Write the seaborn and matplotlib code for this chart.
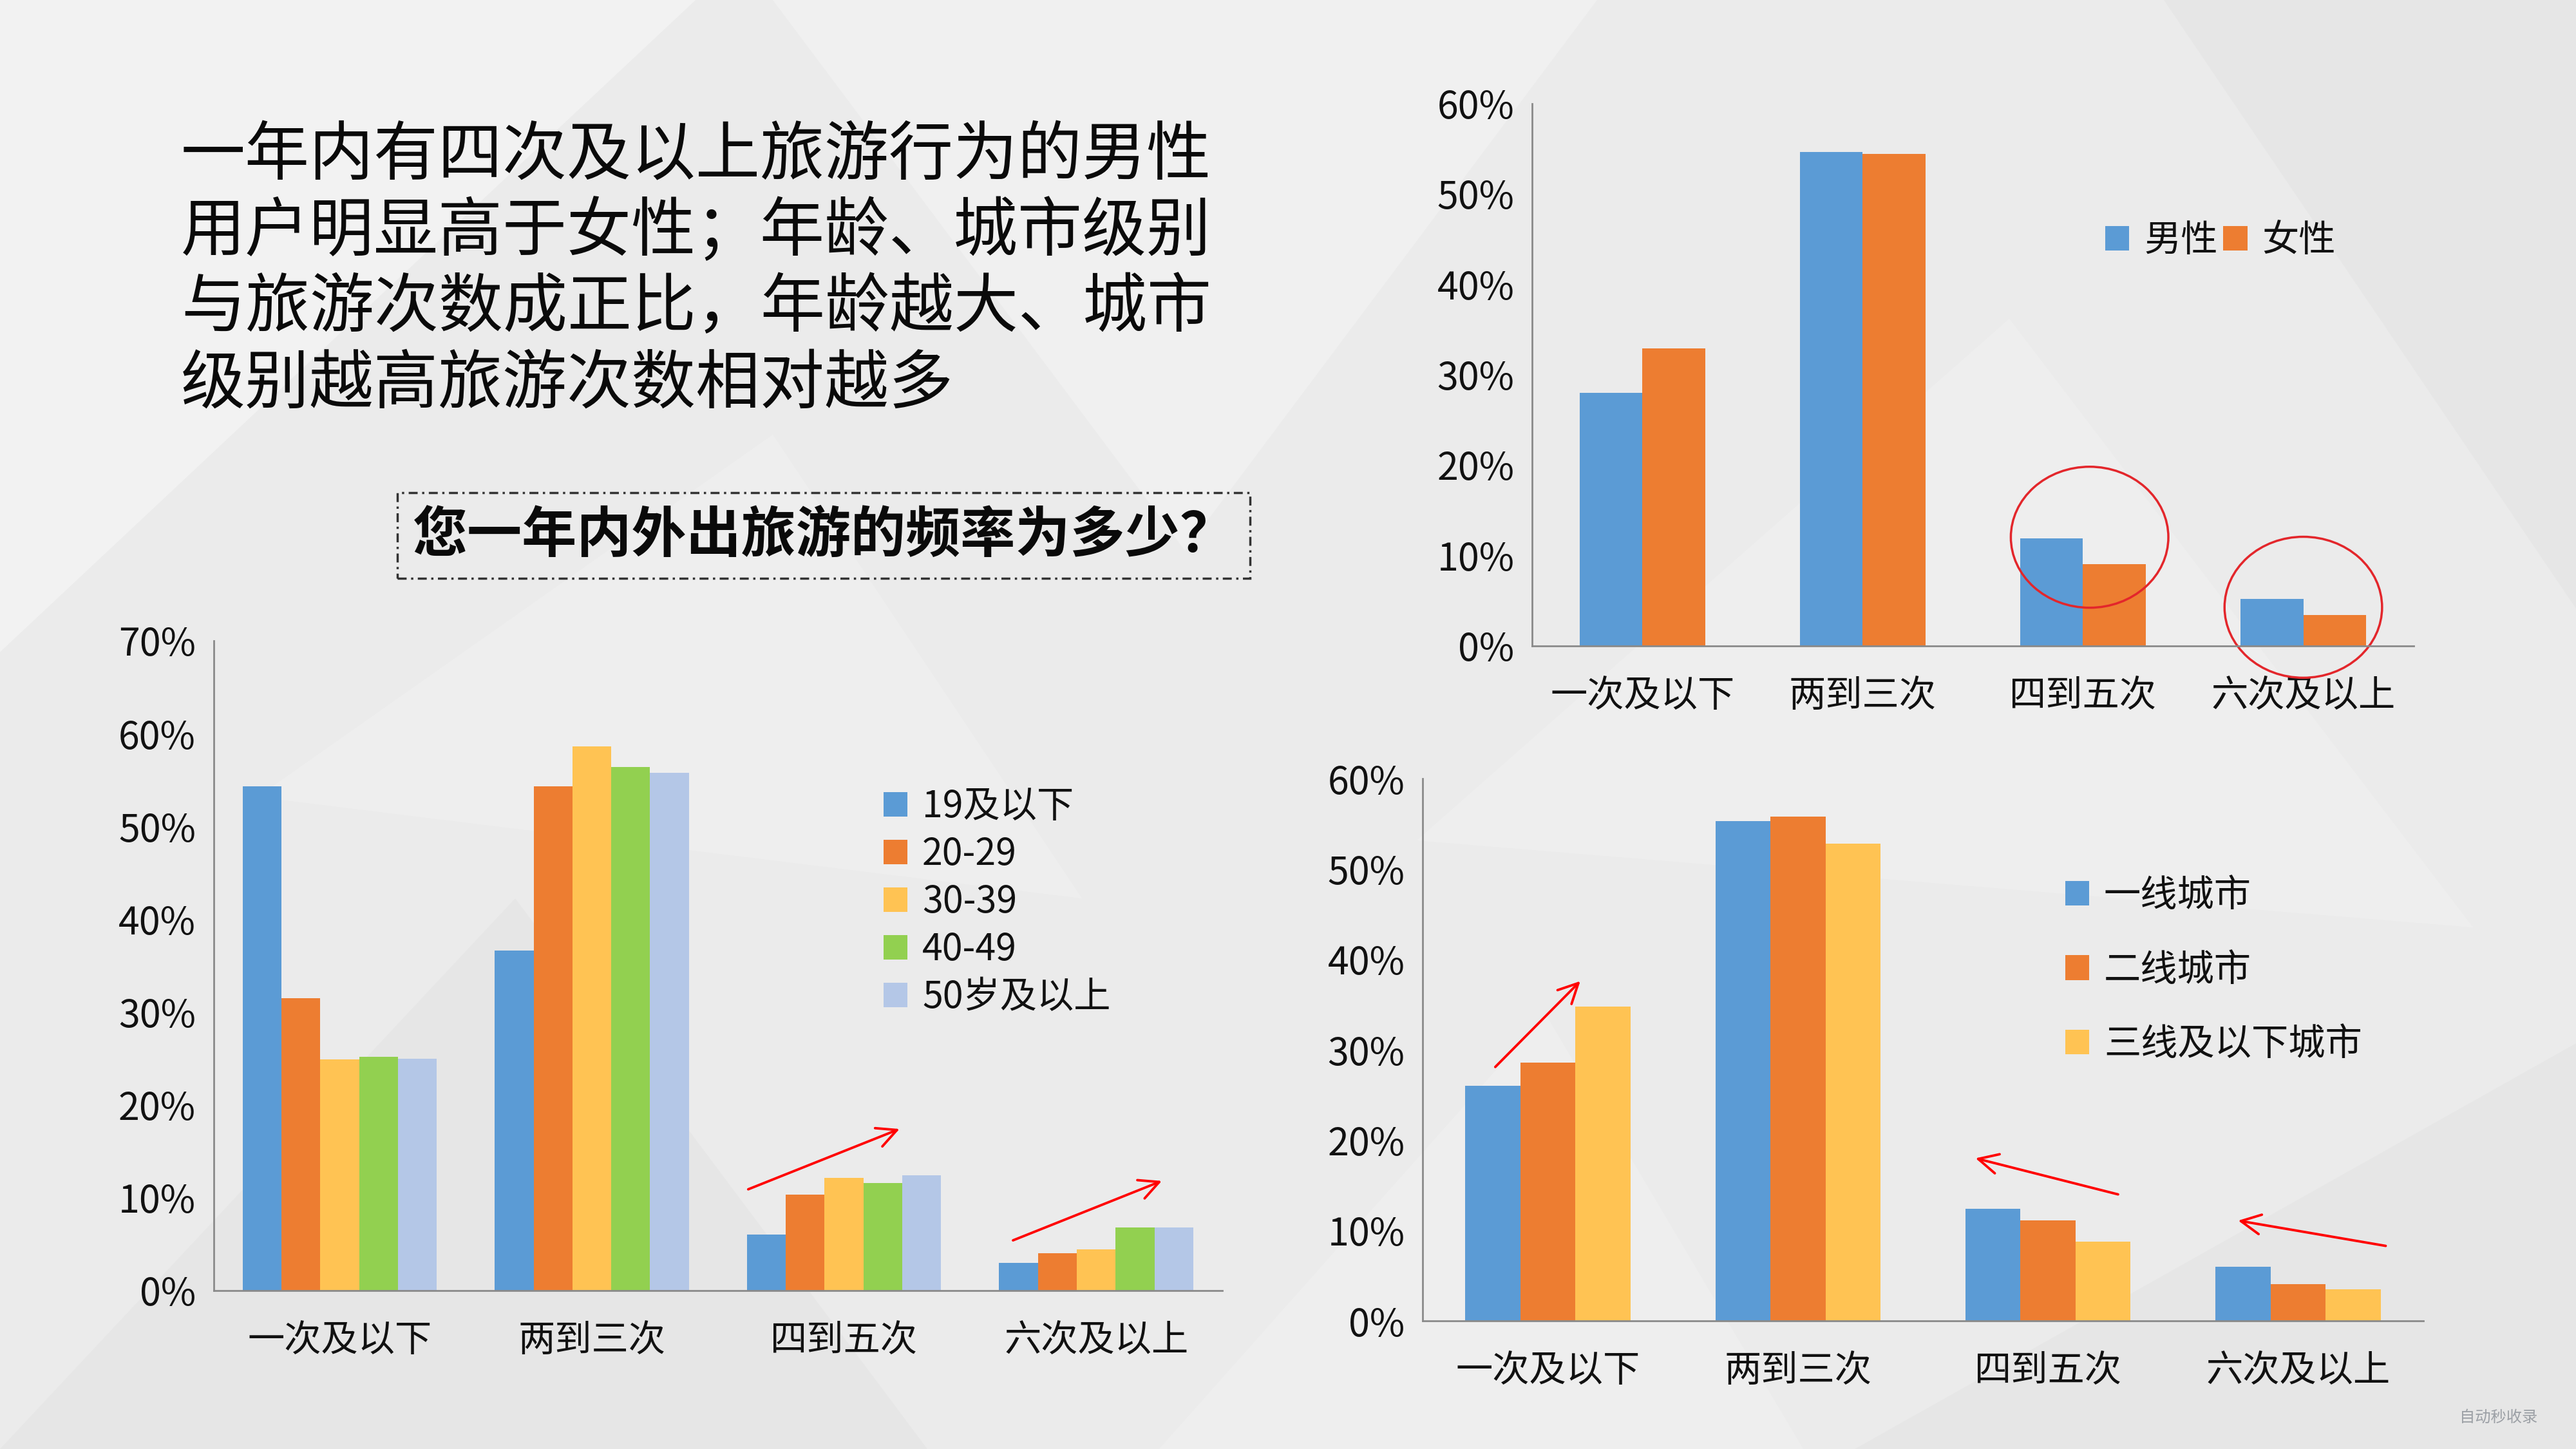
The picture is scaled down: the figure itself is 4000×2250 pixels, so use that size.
import numpy as np
import pandas as pd
import matplotlib
matplotlib.use('Agg')
import matplotlib.pyplot as plt
import seaborn as sns
from matplotlib.patches import Ellipse, Rectangle, Polygon
from matplotlib.ticker import PercentFormatter, FixedLocator, MultipleLocator

# data (percent)
freq = ['一次及以下', '两到三次', '四到五次', '六次及以上']

genders = ['男性', '女性']
male = [28.0, 54.6, 11.9, 5.2]
female = [32.9, 54.4, 9.0, 3.4]

ages = ['19及以下', '20-29', '30-39', '40-49', '50岁及以上']
age_19 = [54.3, 36.6, 6.0, 3.0]
age_20 = [31.5, 54.3, 10.3, 4.0]
age_30 = [24.9, 58.6, 12.1, 4.4]
age_40 = [25.2, 56.4, 11.6, 6.8]
age_50 = [25.0, 55.8, 12.4, 6.8]

cities = ['一线城市', '二线城市', '三线及以下城市']
city_1 = [26.0, 55.3, 12.4, 6.0]
city_2 = [28.6, 55.8, 11.1, 4.1]
city_3 = [34.8, 52.8, 8.8, 3.5]

title_lines = ['一年内有四次及以上旅游行为的男性',
               '用户明显高于女性；年龄、城市级别',
               '与旅游次数成正比，年龄越大、城市',
               '级别越高旅游次数相对越多']
question = '您一年内外出旅游的频率为多少？'

blue, orange, yellow, green, lblue = '#5B9BD5', '#ED7D31', '#FFC353', '#92D050', '#B4C7E7'
grey = '#8a8a8a'
ink = '#111111'


def long_df(names, series):
    rows = []
    for n, s in zip(names, series):
        for f, v in zip(freq, s):
            rows.append((f, n, v))
    return pd.DataFrame(rows, columns=['freq', 'group', 'pct'])


def style_ax(ax, top):
    ax.set_ylim(0, top)
    ax.set_xlim(-0.5, 3.5)
    ax.yaxis.set_major_locator(MultipleLocator(10))
    ax.yaxis.set_major_formatter(PercentFormatter(100, decimals=0))
    ax.xaxis.set_minor_locator(FixedLocator([-0.5, 0.5, 1.5, 2.5, 3.5]))
    ax.tick_params(axis='x', which='major', length=0, pad=14, labelsize=16.5, labelcolor=ink)
    ax.tick_params(axis='x', which='minor', length=9, width=0.8, color=grey)
    ax.tick_params(axis='y', length=5, width=0.8, color=grey, labelsize=17, pad=3, labelcolor=ink)
    for s in ['top', 'right']:
        ax.spines[s].set_visible(False)
    for s in ['left', 'bottom']:
        ax.spines[s].set_color(grey)
        ax.spines[s].set_linewidth(0.8)
    ax.set_xlabel('')
    ax.set_ylabel('')
    ax.set_facecolor('none')
    ax.grid(False)
    ax.set_zorder(3)


def legend_box(ax, **kw):
    h, l = ax.get_legend_handles_labels()
    leg = ax.legend(h, l, bbox_transform=fig.transFigure, frameon=False, fontsize=16.5,
                    handlelength=0.65, handleheight=0.65, handletextpad=0.4, borderpad=0, **kw)
    for t in leg.get_texts():
        t.set_color(ink)


sns.set_style('white')
plt.rcParams['font.family'] = ['Noto Sans CJK SC', 'DejaVu Sans']
plt.rcParams['text.color'] = ink

fig = plt.figure(figsize=(16, 9), dpi=250)
fig.patch.set_facecolor('#ebebeb')

# faint polygon background
for pts, c, a in [([(0, 1), (0.27, 1), (0, 0.55)], 'white', 0.4),
                  ([(0.3, 1), (0.62, 1), (0.46, 0.62)], 'white', 0.25),
                  ([(0.55, 0.42), (0.78, 0.78), (0.96, 0.36)], 'white', 0.2),
                  ([(0.1, 0.45), (0.3, 0.7), (0.42, 0.38)], 'white', 0.2),
                  ([(0, 0), (0.2, 0.38), (0.36, 0)], '#dadada', 0.25),
                  ([(0.72, 0), (1, 0.28), (1, 0)], '#dadada', 0.25),
                  ([(0.84, 1), (1, 1), (1, 0.58)], '#dadada', 0.25),
                  ([(0.45, 0.0), (0.6, 0.3), (0.7, 0.0)], 'white', 0.2)]:
    fig.patches.append(Polygon(pts, closed=True, transform=fig.transFigure,
                               facecolor=c, edgecolor='none', alpha=a, zorder=-1))

# title text
for i, line in enumerate(title_lines):
    fig.text(0.0702, 0.8923 - i * 0.0525, line, fontsize=28.8, ha='left', va='center', color='#0a0a0a')

# question box
fig.patches.append(Rectangle((242 / 1568, 1 - 352 / 882), (761 - 242) / 1568, 52 / 882,
                             transform=fig.transFigure, fill=False, edgecolor='#333333',
                             linewidth=1.0, linestyle=(0, (4, 2, 1, 2)), zorder=1))
fig.text(0.3198, 0.6304, question, fontsize=24.5, fontweight='bold', ha='center', va='center', color='#0a0a0a')

# gender chart (top right)
ax1 = fig.add_axes([0.5948, 0.5544, 0.3421, 0.3742])
sns.barplot(data=long_df(genders, [male, female]), x='freq', y='pct', hue='group',
            palette=[blue, orange], width=0.57, saturation=1, linewidth=0, ax=ax1)
style_ax(ax1, 60)
legend_box(ax1, ncol=2, loc='center', bbox_to_anchor=(0.862, 0.834), columnspacing=0.15)
for cx, cy in [(2.03, 12.0), (3.0, 4.25)]:
    ax1.add_patch(Ellipse((cx, cy), 0.715, 15.6, fill=False, edgecolor='#E3262B', linewidth=1.0, clip_on=False))

# age chart (bottom left)
ax2 = fig.add_axes([0.0829, 0.1094, 0.3916, 0.4484])
sns.barplot(data=long_df(ages, [age_19, age_20, age_30, age_40, age_50]), x='freq', y='pct', hue='group',
            palette=[blue, orange, yellow, green, lblue], width=0.77, saturation=1, linewidth=0, ax=ax2)
style_ax(ax2, 70)
legend_box(ax2, loc='upper left', bbox_to_anchor=(0.343, 0.456), labelspacing=0.27, borderaxespad=0)
for tail, head in [((1.62, 10.9), (2.22, 17.4)), ((2.67, 5.4), (3.26, 11.8))]:
    ax2.annotate('', xy=head, xytext=tail,
                 arrowprops=dict(arrowstyle='->', color='red', lw=1.1, mutation_scale=22, shrinkA=0, shrinkB=0))

# city chart (bottom right)
ax3 = fig.add_axes([0.5523, 0.0884, 0.3884, 0.3742])
sns.barplot(data=long_df(cities, [city_1, city_2, city_3]), x='freq', y='pct', hue='group',
            palette=[blue, orange, yellow], width=0.66, saturation=1, linewidth=0, ax=ax3)
style_ax(ax3, 60)
legend_box(ax3, loc='upper left', bbox_to_anchor=(0.8017, 0.395), labelspacing=1.0, borderaxespad=0)
for tail, head in [((-0.21, 28.1), (0.13, 37.6)), ((2.28, 14.0), (1.71, 18.0)), ((3.35, 8.3), (2.76, 11.1))]:
    ax3.annotate('', xy=head, xytext=tail,
                 arrowprops=dict(arrowstyle='->', color='red', lw=1.1, mutation_scale=22, shrinkA=0, shrinkB=0))

# watermark
fig.text(0.985, 0.022, '自动秒收录', fontsize=7, ha='right', va='center', color='#8a8f96', alpha=0.8)

fig.savefig('out.png', dpi=250, facecolor=fig.get_facecolor())
